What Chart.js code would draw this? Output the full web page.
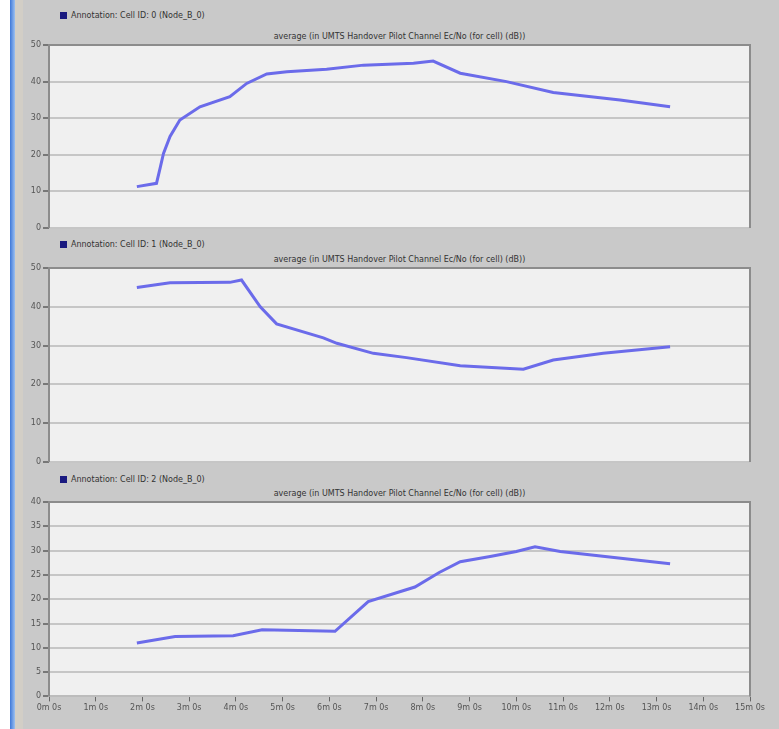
<!DOCTYPE html>
<html>
<head>
<meta charset="utf-8">
<script src="https://cdn.jsdelivr.net/npm/chart.js@4"></script>
<style>
  body { margin:0; width:779px; height:729px; background:#fff; position:relative; overflow:hidden; font-family:"DejaVu Sans", sans-serif; }
  .fondo { position:absolute; left:10px; top:0; width:769px; height:729px; background:#c9c9c9; }
  .borde { position:absolute; left:10px; top:0; width:5px; height:729px; background:linear-gradient(90deg,#3f78d8,#9cc0f0); }
  .franja { position:absolute; left:15px; top:0; width:8px; height:729px; background:#d2cec6; }
  .leyenda { position:absolute; left:60px; font-size:8px; color:#333; white-space:nowrap; }
  .leyenda span { display:inline-block; width:7px; height:7px; background:#1a1a80; margin-right:4px; vertical-align:-1px; }
  .titulo { position:absolute; left:49px; width:701px; text-align:center; font-size:8px; color:#333; }
  canvas { position:absolute; left:0; }
</style>
</head>
<body>
<div class="fondo"></div>
<div class="borde"></div>
<div class="franja"></div>

<div class="leyenda" style="top:11px"><span></span>Annotation: Cell ID: 0 (Node_B_0)</div>
<div class="titulo" style="top:32px">average (in UMTS Handover Pilot Channel Ec/No (for cell) (dB))</div>
<div class="leyenda" style="top:240px"><span></span>Annotation: Cell ID: 1 (Node_B_0)</div>
<div class="titulo" style="top:255px">average (in UMTS Handover Pilot Channel Ec/No (for cell) (dB))</div>
<div class="leyenda" style="top:475px"><span></span>Annotation: Cell ID: 2 (Node_B_0)</div>
<div class="titulo" style="top:489px">average (in UMTS Handover Pilot Channel Ec/No (for cell) (dB))</div>

<canvas id="celda0" width="779" height="200" style="top:38px"></canvas>
<canvas id="celda1" width="779" height="211" style="top:261px"></canvas>
<canvas id="celda2" width="779" height="228" style="top:495px"></canvas>

<script>
// tiempo en minutos, valor en dB
const tiempoCelda0 = [1.88, 2.30, 2.38, 2.45, 2.59, 2.80, 3.23, 3.87, 4.23, 4.66, 5.09, 5.94, 6.73, 7.80, 8.22, 8.80, 9.79, 10.79, 12.22, 13.29];
const valorCelda0  = [11.3, 12.2, 16.5, 20.4, 25.0, 29.5, 33.1, 35.9, 39.5, 42.1, 42.7, 43.4, 44.5, 45.0, 45.6, 42.3, 40.0, 37.0, 35.0, 33.1];

const tiempoCelda1 = [1.88, 2.59, 3.87, 4.12, 4.52, 4.87, 5.87, 6.16, 6.94, 7.65, 8.80, 10.15, 10.79, 11.86, 13.29];
const valorCelda1  = [45.0, 46.2, 46.3, 46.9, 40.0, 35.6, 32.0, 30.6, 28.0, 26.9, 24.8, 23.9, 26.3, 28.0, 29.7];

const tiempoCelda2 = [1.88, 2.70, 3.94, 4.56, 6.12, 6.83, 7.83, 8.35, 8.80, 9.44, 10.00, 10.40, 10.94, 13.29];
const valorCelda2  = [11.0, 12.3, 12.5, 13.7, 13.4, 19.5, 22.5, 25.5, 27.7, 28.8, 29.8, 30.8, 29.8, 27.3];

const minutosEje = [0, 1, 2, 3, 4, 5, 6, 7, 8, 9, 10, 11, 12, 13, 14, 15];
const etiquetasEje = minutosEje.map(m => m + 'm 0s');

const fondoGrafico = {
  id: 'fondoGrafico',
  beforeDraw(chart){
    const {ctx, chartArea:a} = chart;
    ctx.save();
    ctx.fillStyle = '#f0f0f0';
    ctx.fillRect(a.left, a.top, a.right - a.left, a.bottom - a.top);
    ctx.restore();
  },
  afterDraw(chart){
    const {ctx, chartArea:a} = chart;
    ctx.save();
    ctx.strokeStyle = '#8c8c8c';
    ctx.lineWidth = 2;
    ctx.beginPath();
    ctx.moveTo(a.left, a.bottom);
    ctx.lineTo(a.left, a.top);
    ctx.lineTo(a.right, a.top);
    ctx.lineTo(a.right, a.bottom);
    ctx.stroke();
    ctx.restore();
  }
};

function crearGrafico(id, tiempos, valores, maximo, paso, conEje, padTop, padBottom){
  const puntos = tiempos.map((t, i) => ({x: t, y: valores[i]}));
  return new Chart(document.getElementById(id), {
    type: 'line',
    data: { datasets: [{ data: puntos, borderColor: '#6b6bea', borderWidth: 3, pointRadius: 0, tension: 0 }] },
    options: {
      responsive: false,
      animation: false,
      layout: { padding: { top: padTop, bottom: padBottom, right: 29, left: 0 } },
      plugins: { legend: { display: false }, title: { display: false }, tooltip: { enabled: false } },
      scales: {
        x: {
          type: 'linear', min: 0, max: 15,
          display: conEje,
          grid: { drawOnChartArea: false, tickLength: 5, color: '#666' },
          border: { display: true, color: '#bcbcbc', width: 2 },
          ticks: { stepSize: 1, color: '#555', font: { size: 8, family: 'DejaVu Sans' }, padding: 2, maxRotation: 0,
                   callback: v => etiquetasEje[minutosEje.indexOf(v)] }
        },
        y: {
          min: 0, max: maximo,
          afterFit: s => { s.width = 49; },
          grid: { color: '#c6c6c6', lineWidth: 2, tickLength: 6, tickColor: '#777' },
          border: { display: false },
          ticks: { stepSize: paso, color: '#555', font: { size: 8, family: 'DejaVu Sans' }, padding: 2 }
        }
      }
    },
    plugins: [fondoGrafico]
  });
}

crearGrafico('celda0', tiempoCelda0, valorCelda0, 50, 10, false, 7, 10);
crearGrafico('celda1', tiempoCelda1, valorCelda1, 50, 10, false, 7, 10);
crearGrafico('celda2', tiempoCelda2, valorCelda2, 40, 5, true, 7, 8);
</script>
</body>
</html>
